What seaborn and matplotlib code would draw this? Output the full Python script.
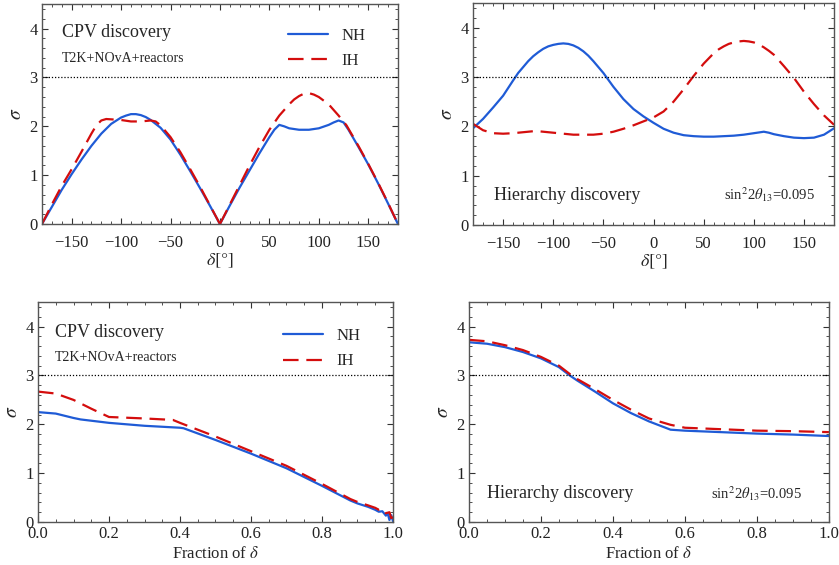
import numpy as np
import pandas as pd
import matplotlib
matplotlib.use("Agg")
import matplotlib.pyplot as plt
from matplotlib.ticker import MultipleLocator
import seaborn as sns

# ---------------- data ----------------
# Top-left: CPV discovery vs delta
cpv_nh_neg_d = [-180, -170, -160, -150, -140, -130, -120, -110, -100, -95, -90, -85, -80, -75, -70, -60, -50, -40, -30, -20, -10, 0]
cpv_nh_neg_s = [0, 0.35, 0.70, 1.02, 1.32, 1.60, 1.85, 2.05, 2.18, 2.22, 2.25, 2.25, 2.23, 2.19, 2.13, 1.97, 1.73, 1.42, 1.08, 0.73, 0.37, 0]
cpv_nh_pos_d = [0, 10, 20, 30, 40, 50, 55, 60, 65, 70, 80, 90, 100, 110, 115, 120, 125, 130, 140, 150, 160, 170, 180]
cpv_nh_pos_s = [0, 0.38, 0.75, 1.10, 1.45, 1.78, 1.93, 2.03, 2.00, 1.96, 1.93, 1.93, 1.96, 2.03, 2.08, 2.12, 2.08, 1.93, 1.58, 1.22, 0.83, 0.42, 0]
cpv_ih_neg_d = [-180, -170, -160, -150, -140, -130, -125, -120, -115, -100, -90, -80, -70, -65, -60, -50, -40, -30, -20, -10, 0]
cpv_ih_neg_s = [0, 0.40, 0.78, 1.12, 1.48, 1.85, 2.02, 2.12, 2.15, 2.13, 2.10, 2.10, 2.12, 2.10, 2.02, 1.78, 1.47, 1.12, 0.76, 0.38, 0]
cpv_ih_pos_d = [0, 10, 20, 30, 40, 50, 60, 70, 75, 80, 85, 90, 95, 100, 110, 120, 128, 130, 140, 150, 160, 170, 180]
cpv_ih_pos_s = [0, 0.40, 0.80, 1.20, 1.58, 1.93, 2.22, 2.45, 2.55, 2.62, 2.67, 2.68, 2.65, 2.60, 2.45, 2.22, 2.02, 1.95, 1.60, 1.23, 0.84, 0.43, 0]

# Top-right: hierarchy discovery vs delta
mh_d = [-180, -170, -160, -150, -140, -135, -130, -125, -120, -115, -110, -105, -100, -95, -90, -85, -80, -75, -70, -65,
        -60, -55, -50, -40, -30, -20, -10,
        0, 10, 20, 30, 40, 50, 60, 65, 70, 75, 80, 85, 90, 95, 100, 105, 110, 115, 120, 130, 140, 150, 160, 170, 180]
mh_nh_s = [1.96, 2.15, 2.38, 2.62, 2.93, 3.08, 3.20, 3.32, 3.42, 3.50, 3.57, 3.62, 3.65, 3.67, 3.68, 3.67, 3.64, 3.59, 3.52, 3.43,
           3.32, 3.20, 3.08, 2.80, 2.55, 2.35, 2.20,
           2.07, 1.95, 1.87, 1.82, 1.80, 1.79, 1.79, 1.795, 1.80, 1.805, 1.81, 1.82, 1.83, 1.845, 1.86, 1.875, 1.89, 1.87,
           1.84, 1.80, 1.77, 1.76, 1.77, 1.83, 1.96]
mh_ih_s = [2.05, 1.92, 1.86, 1.85, 1.86, 1.87, 1.88, 1.89, 1.90, 1.90, 1.89, 1.88, 1.87, 1.86, 1.85, 1.84, 1.83, 1.83, 1.83, 1.83,
           1.83, 1.84, 1.85, 1.89, 1.95, 2.02, 2.10,
           2.18, 2.30, 2.50, 2.75, 3.02, 3.27, 3.48, 3.56, 3.62, 3.67, 3.70, 3.72, 3.73, 3.72, 3.70, 3.66, 3.60, 3.53,
           3.45, 3.22, 2.98, 2.70, 2.45, 2.22, 2.03]

# Bottom-left: CPV discovery vs fraction of delta
fcpv_nh_f = [0, 0.05, 0.10, 0.12, 0.20, 0.30, 0.40, 0.41, 0.50, 0.60, 0.70, 0.80, 0.88, 0.90, 0.93, 0.95, 0.96, 0.97, 0.98, 0.985, 0.99, 0.995, 1.0]
fcpv_nh_s = [2.25, 2.22, 2.13, 2.10, 2.03, 1.97, 1.93, 1.92, 1.68, 1.40, 1.10, 0.74, 0.44, 0.38, 0.31, 0.25, 0.21, 0.22, 0.13, 0.18, 0.04, 0.14, 0.02]
fcpv_ih_f = [0, 0.05, 0.10, 0.15, 0.20, 0.30, 0.38, 0.40, 0.50, 0.60, 0.70, 0.80, 0.88, 0.90, 0.93, 0.95, 0.96, 0.97, 0.98, 0.99, 0.995, 1.0]
fcpv_ih_s = [2.67, 2.63, 2.50, 2.32, 2.15, 2.12, 2.09, 2.03, 1.75, 1.45, 1.15, 0.78, 0.47, 0.41, 0.34, 0.29, 0.25, 0.27, 0.18, 0.20, 0.08, 0.10]

# Bottom-right: hierarchy discovery vs fraction of delta
fmh_f = [0, 0.05, 0.10, 0.15, 0.20, 0.25, 0.28, 0.30, 0.35, 0.40, 0.45, 0.50, 0.56, 0.60, 0.70, 0.80, 0.90, 1.0]
fmh_nh_s = [3.68, 3.65, 3.58, 3.48, 3.35, 3.17, 3.00, 2.90, 2.67, 2.43, 2.23, 2.06, 1.89, 1.87, 1.84, 1.81, 1.79, 1.76]
fmh_ih_s = [3.73, 3.70, 3.62, 3.52, 3.38, 3.20, 3.03, 2.93, 2.72, 2.50, 2.30, 2.12, 1.99, 1.93, 1.90, 1.87, 1.86, 1.84]

BLUE = "#1f5bd6"
RED = "#d40d0d"
FRAME = "#555555"

sns.set_style("ticks")
plt.rcParams["font.family"] = ["Liberation Serif", "DejaVu Serif"]
plt.rcParams["mathtext.fontset"] = "stix"

fig = plt.figure(figsize=(8.39, 5.65), dpi=100)
ax_tl = fig.add_axes([0.050, 0.6035, 0.4243, 0.389])
ax_tr = fig.add_axes([0.5638, 0.6018, 0.4303, 0.393])
ax_bl = fig.add_axes([0.0453, 0.0761, 0.4231, 0.389])
ax_br = fig.add_axes([0.559, 0.0761, 0.429, 0.389])

dash = (7, 3.5)


def draw(ax, x, y, color, dashed):
    df = pd.DataFrame({"x": x, "y": y})
    sns.lineplot(data=df, x="x", y="y", ax=ax, color=color, lw=1.6, sort=False,
                 estimator=None, linestyle="--" if dashed else "-")
    if dashed:
        ax.lines[-1].set_dashes(dash)


draw(ax_tl, cpv_nh_neg_d, cpv_nh_neg_s, BLUE, False)
draw(ax_tl, cpv_nh_pos_d, cpv_nh_pos_s, BLUE, False)
draw(ax_tl, cpv_ih_neg_d, cpv_ih_neg_s, RED, True)
draw(ax_tl, cpv_ih_pos_d, cpv_ih_pos_s, RED, True)

draw(ax_tr, mh_d, mh_nh_s, BLUE, False)
draw(ax_tr, mh_d, mh_ih_s, RED, True)

draw(ax_bl, fcpv_nh_f, fcpv_nh_s, BLUE, False)
draw(ax_bl, fcpv_ih_f, fcpv_ih_s, RED, True)

draw(ax_br, fmh_f, fmh_nh_s, BLUE, False)
draw(ax_br, fmh_f, fmh_ih_s, RED, True)

for ax in (ax_tl, ax_tr, ax_bl, ax_br):
    ax.set_ylim(0, 4.5)
    ax.yaxis.set_major_locator(MultipleLocator(1))
    ax.yaxis.set_minor_locator(MultipleLocator(0.2))
    ax.set_ylabel(r"$\sigma$", fontsize=14, labelpad=3)
    ax.axhline(3, color="black", lw=0.9, ls=(0, (1, 1.5)))
    ax.tick_params(which="both", direction="in", top=True, right=True, colors="#333333",
                   labelcolor="#222222", labelsize=12, pad=3)
    ax.tick_params(which="major", length=4, width=0.8)
    ax.tick_params(which="minor", length=2, width=0.6)
    for sp in ax.spines.values():
        sp.set_color(FRAME)
        sp.set_linewidth(1.0)

for ax in (ax_tl, ax_tr):
    ax.set_xlim(-180, 180)
    ax.xaxis.set_major_locator(MultipleLocator(50))
    ax.xaxis.set_minor_locator(MultipleLocator(10))
    ax.tick_params(axis="x", which="both", pad=8)
    ax.set_xlabel(r"$\delta[°]$", fontsize=13, labelpad=0)
for ax in (ax_bl, ax_br):
    ax.set_xlim(0, 1)
    ax.xaxis.set_major_locator(MultipleLocator(0.2))
    ax.xaxis.set_minor_locator(MultipleLocator(0.05))
    ax.xaxis.set_major_formatter(matplotlib.ticker.FormatStrFormatter("%.1f"))
    ax.set_xlabel(r"Fraction of $\delta$", fontsize=12, labelpad=3)

# ---- annotations ----
for ax in (ax_tl, ax_bl):
    ax.text(0.055 if ax is ax_tl else 0.048, 0.87 if ax is ax_tl else 0.86, "CPV discovery",
            transform=ax.transAxes, fontsize=13, va="center", ha="left")
    ax.text(0.055 if ax is ax_tl else 0.048, 0.755 if ax is ax_tl else 0.75, "T2K+NOvA+reactors",
            transform=ax.transAxes, fontsize=10, va="center", ha="left")

leg_tl = ax_tl.legend(handles=[ax_tl.lines[0], ax_tl.lines[2]], labels=["NH", "IH"],
                      loc="upper right", bbox_to_anchor=(0.95, 0.96), frameon=False,
                      fontsize=12, handlelength=2.4, handletextpad=0.8, labelspacing=0.55)
leg_bl = ax_bl.legend(handles=[ax_bl.lines[0], ax_bl.lines[1]], labels=["NH", "IH"],
                      loc="upper right", bbox_to_anchor=(0.95, 0.95), frameon=False,
                      fontsize=12, handlelength=2.4, handletextpad=0.8, labelspacing=0.55)

ax_tr.text(0.058, 0.135, "Hierarchy discovery", transform=ax_tr.transAxes, fontsize=13,
           va="center", ha="left")
ax_tr.text(0.947, 0.135, r"sin$^2$2$\theta_{13}$=0.095", transform=ax_tr.transAxes,
           fontsize=10.5, va="center", ha="right")
ax_br.text(0.05, 0.13, "Hierarchy discovery", transform=ax_br.transAxes, fontsize=13,
           va="center", ha="left")
ax_br.text(0.925, 0.13, r"sin$^2$2$\theta_{13}$=0.095", transform=ax_br.transAxes,
           fontsize=10.5, va="center", ha="right")

fig.savefig("out.png", dpi=100, facecolor="white")
